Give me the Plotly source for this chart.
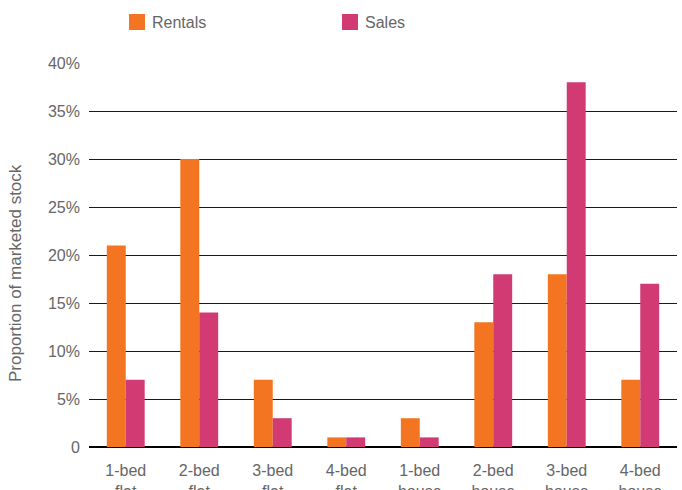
import plotly.graph_objects as go

categories = ["1-bed<br>flat", "2-bed<br>flat", "3-bed<br>flat", "4-bed<br>flat",
              "1-bed<br>house", "2-bed<br>house", "3-bed<br>house", "4-bed<br>house"]
rentals = [21, 30, 7, 1, 3, 13, 18, 7]
sales = [7, 14, 3, 1, 1, 18, 38, 17]
y_tickvals = [0, 5, 10, 15, 20, 25, 30, 35, 40]
y_ticktext = ["0", "5%", "10%", "15%", "20%", "25%", "30%", "35%", "40%"]

ORANGE = "#F47521"
PINK = "#D13A73"
TEXT = "#666666"
FONT = "Liberation Sans, Arial, sans-serif"

W, H = 682, 490
L, R, T, B = 89, 5, 63, 43
PW, PH = W - L - R, H - T - B

def px_x(px):
    return (px - L) / PW

def px_y(py):
    return (H - B - py) / PH

fig = go.Figure()
fig.add_trace(go.Bar(x=categories, y=rentals, name="Rentals", marker_color=ORANGE,
                     marker_line_width=0, showlegend=False))
fig.add_trace(go.Bar(x=categories, y=sales, name="Sales", marker_color=PINK,
                     marker_line_width=0, showlegend=False))

# legend drawn as squares + labels
legend_items = [("Rentals", ORANGE, 129), ("Sales", PINK, 342)]
for name, col, x0 in legend_items:
    fig.add_shape(type="rect", xref="paper", yref="paper",
                  x0=px_x(x0), x1=px_x(x0 + 16), y0=px_y(30), y1=px_y(14),
                  fillcolor=col, line_width=0, layer="above")
    fig.add_annotation(xref="paper", yref="paper", x=px_x(x0 + 21), y=px_y(22),
                       text=name, showarrow=False, xanchor="left", yanchor="middle",
                       font=dict(family=FONT, size=16, color=TEXT))

# y-axis title
fig.add_annotation(xref="paper", yref="paper", x=px_x(15), y=px_y(273),
                   text="Proportion of marketed stock", textangle=-90, showarrow=False,
                   xanchor="center", yanchor="middle",
                   font=dict(family=FONT, size=17, color=TEXT))

fig.update_layout(
    width=W, height=H,
    margin=dict(l=L, r=R, t=T, b=B, pad=0, autoexpand=False),
    paper_bgcolor="white", plot_bgcolor="white",
    barmode="group", bargap=0.485, bargroupgap=0,
    font=dict(family=FONT, size=16, color=TEXT),
    xaxis=dict(showgrid=False, showline=False, zeroline=False, automargin=False,
               ticks="", ticklabelstandoff=12,
               tickfont=dict(family=FONT, size=16, color=TEXT)),
    yaxis=dict(range=[0, 40], tickvals=y_tickvals, ticktext=y_ticktext, automargin=False,
               showgrid=True, gridcolor="#1a1a1a", gridwidth=1,
               zeroline=True, zerolinecolor="#000000", zerolinewidth=1.5,
               showline=False, ticks="", ticklabelstandoff=8,
               tickfont=dict(family=FONT, size=16, color=TEXT)),
)

fig.write_html("out.html")
